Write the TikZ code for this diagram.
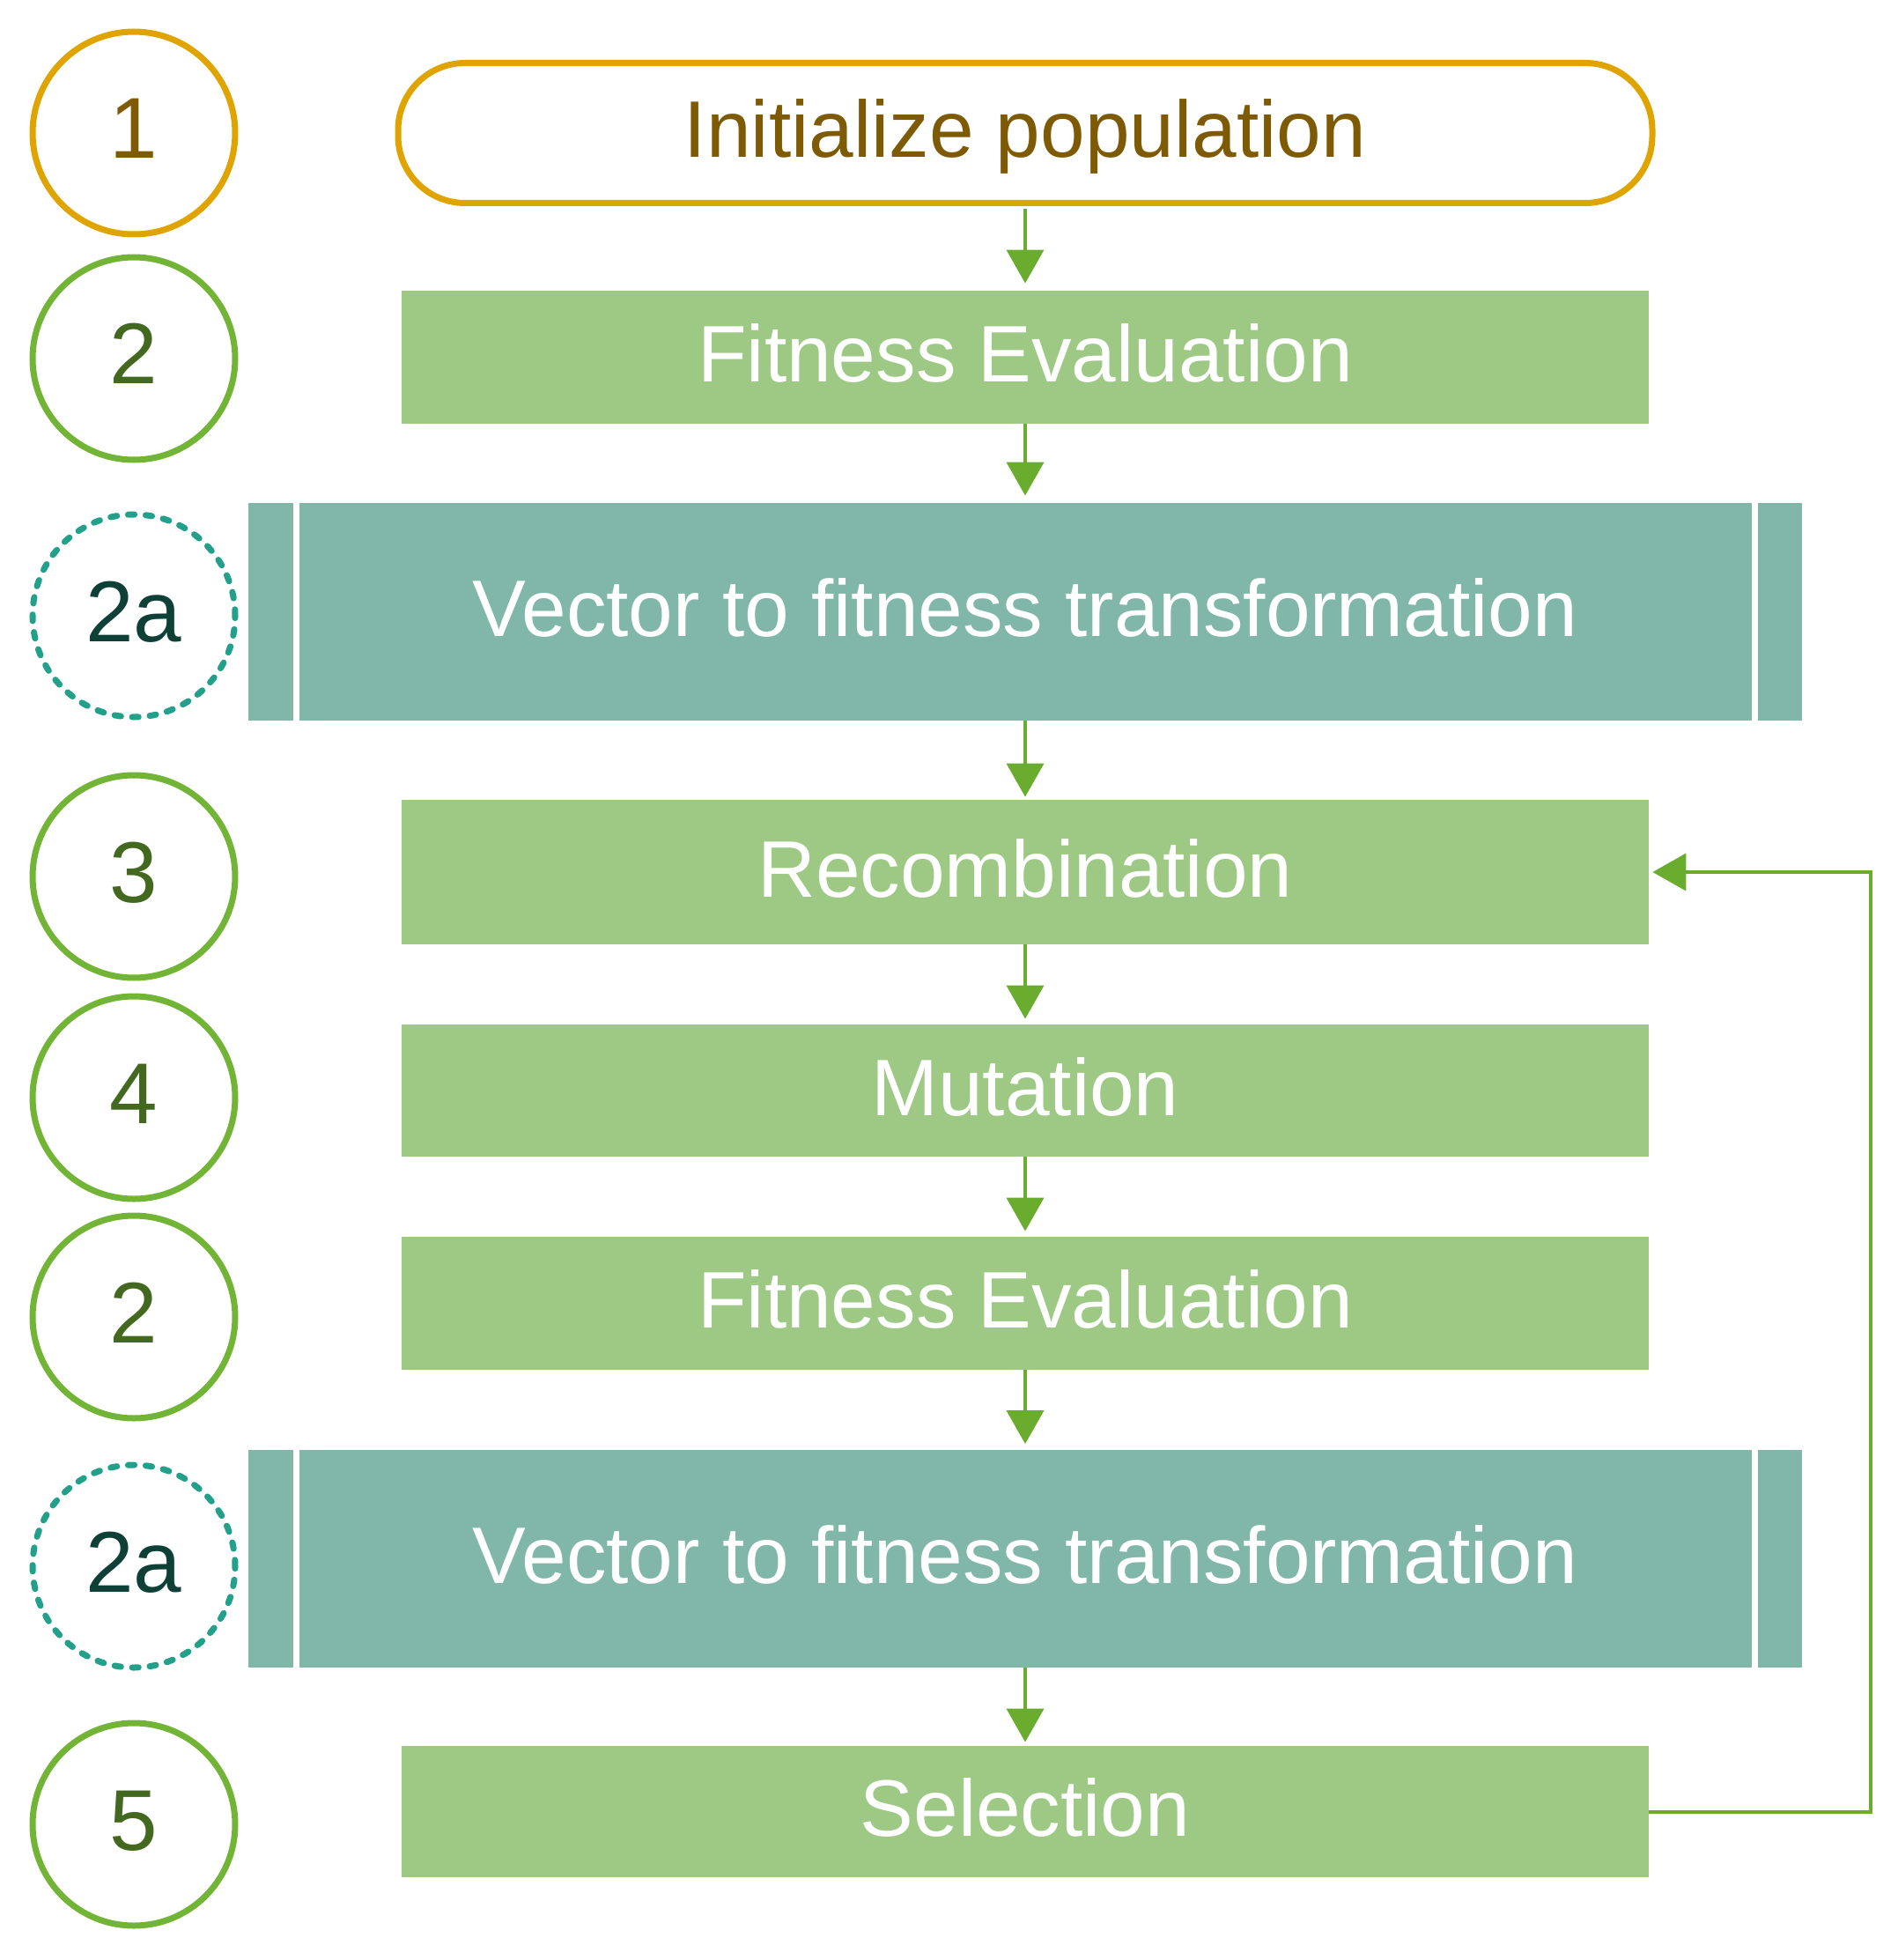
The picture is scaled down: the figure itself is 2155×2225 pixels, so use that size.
\documentclass[tikz,border=0pt]{standalone}
\usepackage{fontspec}
\setmainfont{Liberation Sans}
\usetikzlibrary{arrows.meta}
\definecolor{gold}{HTML}{E0A400}
\definecolor{brown}{HTML}{7F5A04}
\definecolor{cgreen}{HTML}{72B436}
\definecolor{dgreen}{HTML}{43681F}
\definecolor{lgreen}{HTML}{9DC985}
\definecolor{tealfill}{HTML}{80B7A9}
\definecolor{dteal}{HTML}{22A08A}
\definecolor{tealtext}{HTML}{0E4038}
\definecolor{agreen}{HTML}{6AAC2E}
\begin{document}
\begin{tikzpicture}[x=0.5pt,y=-0.5pt,
  num/.style={circle, draw, line width=3.5pt, minimum size=115pt, inner sep=0pt,
    font=\fontsize{49}{55}\selectfont, text height=35pt, text depth=6pt},
  numg/.style={num, draw=cgreen, text=dgreen},
  numo/.style={num, draw=gold, text=brown},
  numt/.style={num, draw=dteal, dash pattern=on 3.6pt off 6.4pt, line cap=round, text=tealtext},
  gbox/.style={rectangle, fill=lgreen, text=white, minimum width=708pt, inner sep=0pt,
    font=\fontsize{45.5}{52}\selectfont, text height=34pt, text depth=6pt},
  tbox/.style={gbox, fill=tealfill, minimum width=882pt, minimum height=123.5pt},
  startbox/.style={rectangle, rounded corners=38pt, draw=gold, line width=3.5pt, fill=white,
    text=brown, minimum width=712pt, minimum height=79.5pt, inner sep=0pt,
    font=\fontsize{45.5}{52}\selectfont, text height=34pt, text depth=6pt},
  flow/.style={draw=agreen, line width=2pt, -{Triangle[length=19pt,width=21pt]}, shorten >=3pt},
  sepline/.style={draw=white, line width=3.5pt}
]
\path[use as bounding box] (0,0) rectangle (2155,2225);

% step numbers
\node[numo] (c1)  at (152,151)  {1};
\node[numg] (c2)  at (152,407)  {2};
\node[numt] (c2a) at (152,699)  {2a};
\node[numg] (c3)  at (152,995)  {3};
\node[numg] (c4)  at (152,1246) {4};
\node[numg] (c2b) at (152,1495) {2};
\node[numt] (c2c) at (152,1778) {2a};
\node[numg] (c5)  at (152,2071) {5};

% process boxes
\node[startbox] (b1) at (1164,151) {Initialize population};
\node[gbox, minimum height=75.5pt] (b2) at (1164,405.5) {Fitness Evaluation};
\node[tbox] (b2a) at (1164,694.5) {Vector to fitness transformation};
\node[gbox, minimum height=82pt] (b3) at (1164,990) {Recombination};
\node[gbox, minimum height=75pt] (b4) at (1164,1238) {Mutation};
\node[gbox, minimum height=75.5pt] (b5) at (1164,1479.5) {Fitness Evaluation};
\node[tbox] (b6) at (1164,1769) {Vector to fitness transformation};
\node[gbox, minimum height=74.5pt] (b7) at (1164,2056.5) {Selection};

% white separators of the predefined-process boxes
\foreach \b in {b2a,b6}{
  \draw[sepline] ([xshift=27.25pt]\b.north west) -- ([xshift=27.25pt]\b.south west);
  \draw[sepline] ([xshift=-27pt]\b.north east) -- ([xshift=-27pt]\b.south east);
}

% connectors
\draw[flow, shorten <=1.75pt, shorten >=4pt] (b1.south) -- (b2.north);
\draw[flow, shorten >=4pt] (b2.south) -- (b2a.north);
\draw[flow, shorten >=1.5pt] (b2a.south) -- (b3.north);
\draw[flow] (b3.south) -- (b4.north);
\draw[flow] (b4.south) -- (b5.north);
\draw[flow] (b5.south) -- (b6.north);
\draw[flow, shorten >=2pt] (b6.south) -- (b7.north);
\coordinate (fb) at (2124,2056.5);
\draw[flow, shorten >=2pt] (b7.east) -- (fb) |- (b3.east);
\end{tikzpicture}
\end{document}
